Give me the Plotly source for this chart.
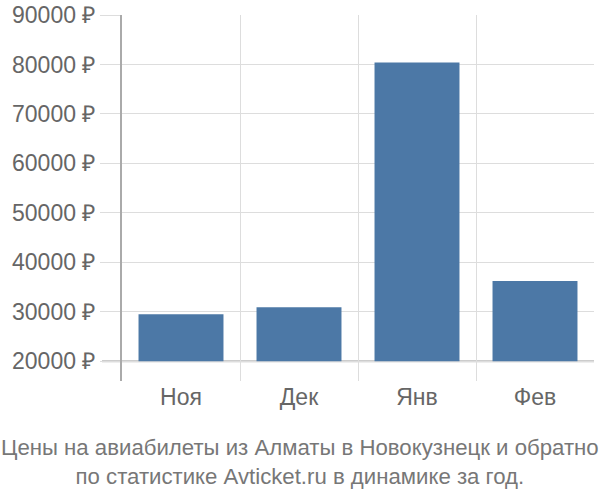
import plotly.graph_objects as go

months = ["Ноя", "Дек", "Янв", "Фев"]
prices = [29500, 30900, 80400, 36200]
base_price = 20000
y_ticks = [20000, 30000, 40000, 50000, 60000, 70000, 80000, 90000]
y_tick_text = [f"{v} ₽" for v in y_ticks]
title_lines = ["Цены на авиабилеты из Алматы в Новокузнецк и обратно",
               "по статистике Avticket.ru в динамике за год."]

x_pos = list(range(len(months)))
fig = go.Figure()
fig.add_trace(go.Bar(
    x=x_pos, y=[p - base_price for p in prices], base=base_price,
    width=0.72, marker=dict(color="#4c78a6", line=dict(width=0)),
    hoverinfo="skip", showlegend=False,
))
# invisible trace to activate the boundary grid axis
fig.add_trace(go.Scatter(x=[-0.5, 3.5], y=[base_price, base_price], xaxis="x2",
                         mode="lines", line=dict(width=0), showlegend=False,
                         hoverinfo="skip"))

font_family = "Liberation Sans, Arial, sans-serif"
fig.update_layout(
    width=600, height=500,
    margin=dict(l=122, r=6, t=15, b=119, autoexpand=False),
    paper_bgcolor="white", plot_bgcolor="white",
    xaxis=dict(range=[-0.5, 3.5], tickvals=x_pos, ticktext=months,
               showgrid=False, zeroline=False, showline=False, ticks="",
               tickfont=dict(family=font_family, size=23, color="#666"),
               automargin=False, fixedrange=True),
    xaxis2=dict(range=[-0.5, 3.5], overlaying="x", tickvals=[0.5, 1.5, 2.5, 3.5],
                showticklabels=False, showgrid=True, gridcolor="#dddddd",
                gridwidth=1, zeroline=False, showline=False, ticks="",
                automargin=False),
    yaxis=dict(range=[16000, 90000], tickvals=y_ticks, ticktext=y_tick_text,
               showgrid=True, gridcolor="#dddddd", gridwidth=1,
               zeroline=False, showline=True, linecolor="#aaaaaa", linewidth=2,
               ticks="outside", ticklen=20, tickcolor="#dddddd", tickwidth=1,
               tickfont=dict(family=font_family, size=23, color="#666"),
               automargin=False, fixedrange=True),
    shapes=[dict(type="line", xref="paper", yref="y", x0=-20/472, x1=1,
                 y0=base_price, y1=base_price,
                 line=dict(color="#bbbbbb", width=2), layer="below")],
    annotations=[dict(text="<br>".join(title_lines), xref="paper", yref="paper",
                      x=(300 - 122) / 472, y=-52 / 366, xanchor="center", yanchor="top",
                      showarrow=False, align="center",
                      font=dict(family=font_family, size=22.2, color="#777"))],
)
fig.write_html("out.html", config={"displayModeBar": False},
               post_script="document.body.style.margin='0';")
